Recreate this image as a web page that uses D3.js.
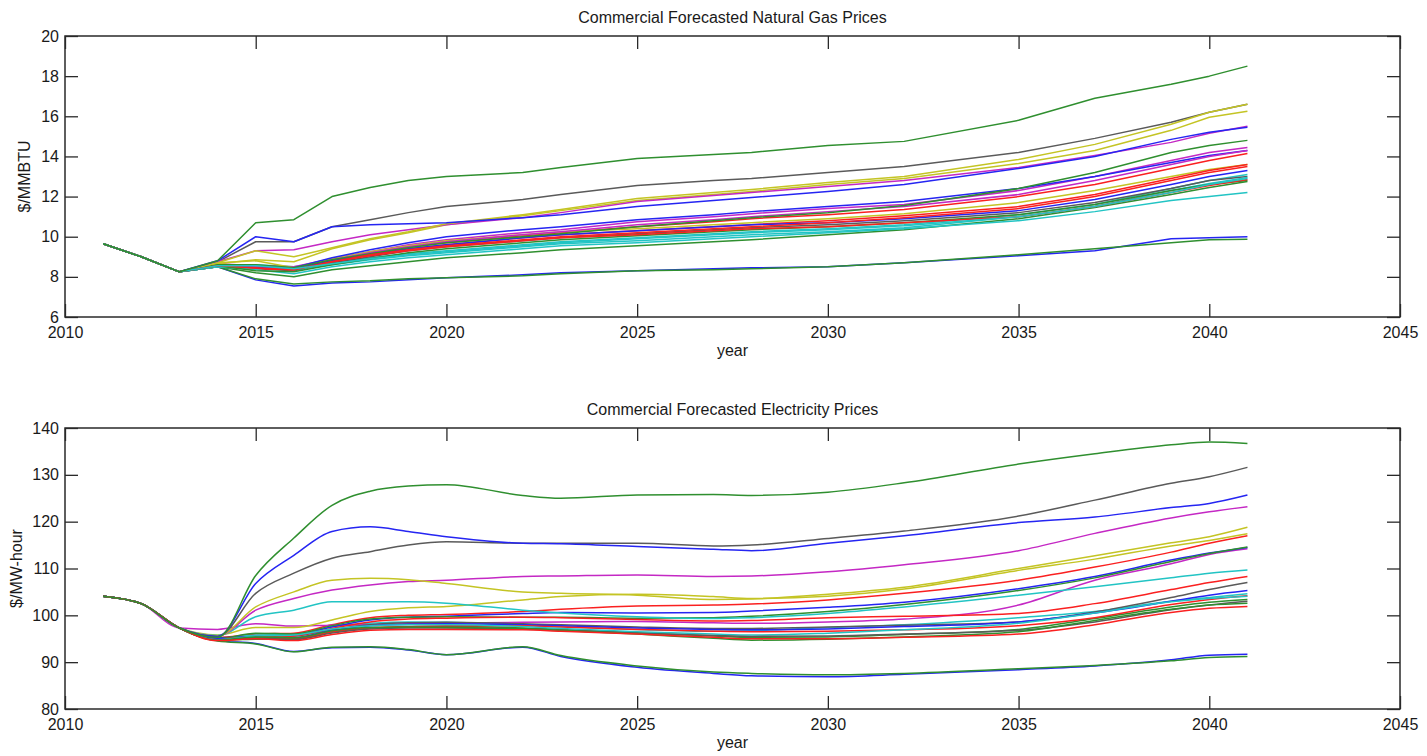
<!DOCTYPE html>
<html><head><meta charset="utf-8">
<script src="https://cdn.jsdelivr.net/npm/d3@7"></script>
<style>
body{margin:0;background:#fff;}
text{font-family:"Liberation Sans",Arial,Helvetica,sans-serif;fill:#1a1a1a;}
</style>
</head><body>
<svg id="chart" width="1427" height="756"></svg>
<script>
// ---------- data ----------
const years = [2011,2012,2013,2014,2015,2016,2017,2018,2019,2020,2022,2023,2025,2027,2028,2030,2032,2035,2037,2039,2040,2041];
const xTicks = [2010,2015,2020,2025,2030,2035,2040,2045];
const gasTicks = [6,8,10,12,14,16,18,20];
const elecTicks = [80,90,100,110,120,130,140];

const gasTitle = "Commercial Forecasted Natural Gas Prices";
const elecTitle = "Commercial Forecasted Electricity Prices";
const xLabel = "year";
const gasYLabel = "$/MMBTU";
const elecYLabel = "$/MW-hour";

// natural gas series ($/MMBTU)
const gasGreenTop   = [9.65,9.0,8.25,8.8, 10.7,10.85,12.0,12.45,12.8,13.0, 13.2,13.45,13.9,14.1,14.2,14.55,14.75,15.8,16.9,17.6,18.0,18.5];
const gasGray       = [9.65,9.0,8.25,8.75, 9.75,9.75,10.5,10.85,11.2,11.5, 11.85,12.1,12.55,12.8,12.9,13.2,13.5,14.2,14.9,15.7,16.2,16.6];
const gasYellowA    = [9.65,9.0,8.25,8.7, 9.3,9.0,9.45,9.9,10.25,10.65, 11.1,11.35,11.9,12.2,12.35,12.7,13.0,13.85,14.6,15.6,16.2,16.6];
const gasYellowB    = [9.65,9.0,8.25,8.65, 8.85,8.75,9.4,9.85,10.2,10.6, 11.05,11.3,11.8,12.1,12.25,12.6,12.9,13.65,14.3,15.3,15.95,16.25];
const gasMagentaTop = [9.65,9.0,8.25,8.75, 9.3,9.35,9.75,10.1,10.35,10.6, 10.95,11.2,11.75,12.05,12.2,12.5,12.8,13.45,14.05,14.7,15.15,15.5];
const gasBlueTop    = [9.65,9.0,8.25,8.8, 10.0,9.75,10.5,10.6,10.65,10.7, 10.95,11.1,11.5,11.8,11.95,12.25,12.6,13.4,14.0,14.85,15.2,15.45];
const gasGreenM1    = [9.65,9.0,8.25,8.6, 8.6,8.45,8.85,9.15,9.45,9.7, 10.0,10.15,10.5,10.8,10.95,11.2,11.55,12.4,13.2,14.2,14.55,14.8];
const gasMagentaM2  = [9.65,9.0,8.25,8.65, 8.55,8.5,8.9,9.25,9.6,9.85, 10.2,10.35,10.75,11.0,11.15,11.4,11.6,12.3,13.0,13.8,14.2,14.45];
const gasBlueM3     = [9.65,9.0,8.25,8.6, 8.5,8.45,8.95,9.35,9.7,10.0, 10.35,10.5,10.85,11.1,11.25,11.5,11.75,12.4,13.0,13.7,14.05,14.3];
const gasRedM4      = [9.65,9.0,8.25,8.65, 8.45,8.4,8.85,9.2,9.5,9.7, 10.05,10.2,10.5,10.75,10.9,11.1,11.35,12.0,12.6,13.4,13.8,14.15];
const gasYellowM5   = [9.65,9.0,8.25,8.7, 8.8,8.45,8.9,9.25,9.55,9.8, 10.1,10.25,10.4,10.6,10.7,10.9,11.15,11.7,12.3,13.0,13.35,13.6];
const gasRedM6      = [9.65,9.0,8.25,8.6, 8.45,8.35,8.8,9.15,9.4,9.6, 9.95,10.1,10.3,10.5,10.6,10.8,11.05,11.5,12.1,12.9,13.3,13.6];
const gasRedM7      = [9.65,9.0,8.25,8.55, 8.4,8.35,8.75,9.1,9.35,9.55, 9.85,10.0,10.2,10.4,10.5,10.7,10.95,11.4,12.0,12.8,13.2,13.5];
const gasBlueM8     = [9.65,9.0,8.25,8.55, 8.45,8.4,8.8,9.1,9.4,9.6, 9.95,10.1,10.3,10.5,10.6,10.7,10.9,11.3,11.85,12.6,13.0,13.3];
const gasGrayM9     = [9.65,9.0,8.25,8.5, 8.4,8.3,8.7,9.0,9.3,9.5, 9.8,9.95,10.15,10.35,10.45,10.6,10.8,11.2,11.7,12.4,12.8,13.0];
const gasCyanM10    = [9.65,9.0,8.25,8.55, 8.6,8.5,8.7,8.95,9.15,9.3, 9.6,9.75,9.95,10.15,10.25,10.4,10.6,11.1,11.6,12.4,12.8,13.1];
const gasCyanM11    = [9.65,9.0,8.25,8.5, 8.5,8.35,8.6,8.85,9.05,9.2, 9.5,9.65,9.8,10.0,10.1,10.25,10.45,11.0,11.5,12.3,12.65,12.95];
const gasRedM12     = [9.65,9.0,8.25,8.55, 8.45,8.35,8.75,9.05,9.3,9.5, 9.8,9.95,10.1,10.3,10.4,10.5,10.7,11.0,11.5,12.2,12.55,12.85];
const gasGreenM13   = [9.65,9.0,8.25,8.5, 8.2,8.0,8.35,8.55,8.75,8.95, 9.2,9.35,9.55,9.75,9.85,10.1,10.35,10.9,11.45,12.1,12.45,12.75];
const gasCyanM14    = [9.65,9.0,8.25,8.5, 8.35,8.15,8.5,8.75,8.95,9.1, 9.4,9.55,9.7,9.9,10.0,10.2,10.4,10.8,11.25,11.8,12.0,12.2];
const gasGreenM15   = [9.65,9.0,8.25,8.55, 8.3,8.25,8.6,8.9,9.2,9.4, 9.7,9.85,10.05,10.25,10.35,10.5,10.7,11.1,11.6,12.3,12.6,12.8];
const gasMagentaM16 = [9.65,9.0,8.25,8.6, 8.5,8.4,8.85,9.2,9.5,9.75, 10.1,10.25,10.6,10.85,11.0,11.25,11.5,12.1,12.8,13.6,14.0,14.3];
const gasCyanM17    = [9.65,9.0,8.25,8.55, 8.55,8.4,8.65,8.9,9.1,9.25, 9.55,9.7,9.9,10.1,10.2,10.35,10.55,11.0,11.5,12.2,12.6,12.9];
const gasBlueLow    = [9.65,9.0,8.25,8.5, 7.85,7.55,7.7,7.75,7.85,7.95, 8.1,8.2,8.3,8.4,8.45,8.5,8.7,9.05,9.3,9.9,9.95,10.0];
const gasGreenLow   = [9.65,9.0,8.25,8.5, 7.9,7.65,7.75,7.8,7.9,7.95, 8.05,8.15,8.3,8.35,8.4,8.5,8.7,9.1,9.4,9.7,9.85,9.87];

// electricity series ($/MW-hour)
const elGreenTop    = [104.1,102.5,97.3,95.3, 108.5,116.5,123.5,126.5,127.6,127.9, 125.6,125.0,125.7,125.8,125.6,126.3,128.3,132.3,134.5,136.4,137.0,136.7];
const elBlueTop     = [104.1,102.5,97.3,95.5, 106.8,112.8,117.9,118.9,117.9,116.8, 115.4,115.3,114.7,114.1,113.8,115.4,117.0,119.8,121.0,123.0,123.9,125.7];
const elGray        = [104.1,102.5,97.3,95.5, 104.7,109.0,112.2,113.6,115.0,115.7, 115.4,115.4,115.4,114.8,115.0,116.4,118.0,121.2,124.6,128.2,129.6,131.6];
const elYellowTop   = [104.1,102.5,97.3,95.6, 101.8,105.0,107.5,107.9,107.6,106.8, 105.0,104.7,104.3,103.4,103.5,104.5,106.0,110.0,112.7,115.5,116.8,118.8];
const elMagentaTop  = [104.1,102.5,97.3,95.6, 101.1,103.6,105.4,106.5,107.2,107.5, 108.3,108.4,108.6,108.3,108.4,109.3,110.8,113.8,117.5,120.8,122.1,123.2];
const elCyanTop     = [104.1,102.5,97.3,95.7, 99.7,101.1,102.9,102.9,102.9,102.6, 101.1,100.5,99.7,99.3,99.5,100.4,101.8,104.3,106.1,108.0,109.0,109.7];
const elYellowLow   = [104.1,102.5,97.3,95.8, 97.4,97.4,99.0,100.8,101.6,101.9, 103.3,104.0,104.5,104.0,103.6,104.1,105.6,109.6,112.0,114.8,116.0,117.4];
const elRedA        = [104.1,102.5,97.3,95.3, 96.0,96.2,98.0,99.5,100.0,100.2, 100.8,101.3,102.0,102.2,102.4,103.3,104.7,107.5,110.3,113.5,115.4,117.0];
const elMagentaLow  = [104.1,102.5,97.3,97.0, 98.2,97.7,97.9,98.0,98.2,98.3, 98.5,98.6,98.7,98.4,98.3,98.6,99.2,102.2,107.5,111.0,113.0,114.2];
const elBlueA       = [104.1,102.5,97.3,95.2, 95.5,95.7,97.5,99.0,99.6,99.8, 100.4,100.6,100.5,100.6,100.9,101.7,102.8,105.7,108.3,111.8,113.3,114.5];
const elGreenA      = [104.1,102.5,97.3,95.0, 96.2,96.0,97.8,99.2,99.6,99.7, 99.6,99.6,99.4,99.5,99.8,100.8,102.3,105.3,108.0,111.5,113.2,114.6];
const elCyanA       = [104.1,102.5,97.3,95.0, 95.8,95.9,97.6,98.3,98.6,98.5, 98.0,97.6,97.0,96.6,96.7,97.4,98.0,99.5,100.8,103.0,103.8,104.6];
const elRedB        = [104.1,102.5,97.3,95.0, 95.4,95.6,97.2,98.6,99.2,99.4, 99.6,99.5,99.1,98.8,98.9,99.5,99.8,100.4,102.5,105.5,107.0,108.3];
const elGrayB       = [104.1,102.5,97.3,94.9, 95.5,95.6,97.0,98.0,98.4,98.5, 98.2,98.0,97.5,97.2,97.2,97.5,97.9,98.6,100.7,103.8,105.5,107.0];
const elBlueB       = [104.1,102.5,97.3,95.0, 95.0,95.2,96.8,97.8,98.1,98.2, 98.0,97.8,97.3,97.0,96.9,97.1,97.6,98.6,100.5,103.0,104.3,105.3];
const elRedC        = [104.1,102.5,97.3,94.8, 95.2,94.9,96.5,97.3,97.6,97.8, 97.8,97.5,97.0,96.6,96.5,96.6,96.9,97.8,99.5,102.3,103.4,104.2];
const elGreenB      = [104.1,102.5,97.3,94.8, 94.9,95.0,96.4,97.3,97.5,97.6, 97.3,97.0,96.3,95.6,95.3,95.4,95.9,97.0,99.3,101.8,102.8,103.4];
const elGreenC      = [104.1,102.5,97.3,94.7, 95.4,95.2,96.7,97.4,97.5,97.4, 97.2,96.8,96.0,95.1,94.7,94.9,95.4,96.5,98.9,101.3,102.2,102.6];
const elRedD        = [104.1,102.5,97.3,94.6, 95.0,94.6,95.9,96.8,97.0,97.0, 96.9,96.6,96.0,95.3,95.0,95.0,95.3,96.0,98.0,100.6,101.5,101.9];
const elGrayC       = [104.1,102.5,97.3,94.7, 95.1,94.8,96.2,97.1,97.3,97.3, 97.1,96.8,96.2,95.7,95.5,95.6,96.0,96.8,98.6,101.2,102.2,103.0];
const elCyanB       = [104.1,102.5,97.3,94.8, 95.6,95.8,97.1,97.8,98.0,98.0, 97.6,97.2,96.5,96.0,95.8,96.2,96.9,98.3,100.5,102.9,103.6,104.1];
const elBlueLow     = [104.1,102.5,97.3,94.6, 94.0,92.3,93.1,93.2,92.6,91.6, 93.2,91.2,88.9,87.6,87.1,86.9,87.4,88.4,89.2,90.5,91.5,91.7];
const elGreenLow    = [104.1,102.5,97.3,94.5, 93.9,92.2,93.2,93.3,92.7,91.6, 93.3,91.4,89.2,87.9,87.6,87.3,87.6,88.6,89.3,90.3,91.0,91.2];

// MATLAB-like colour keys
const palette = {b:"#2525f2", g:"#2f8f2f", r:"#fa2020", c:"#22c4c4", m:"#c428c4", y:"#c4c424", k:"#5a5a5a"};

const gasLines = [
  [gasBlueLow,"b"],[gasGreenLow,"g"],[gasRedM4,"r"],[gasCyanM10,"c"],[gasMagentaM2,"m"],[gasYellowM5,"y"],[gasGrayM9,"k"],
  [gasBlueM3,"b"],[gasGreenM13,"g"],[gasRedM6,"r"],[gasCyanM11,"c"],[gasMagentaM16,"m"],[gasYellowB,"y"],[gasGray,"k"],
  [gasBlueM8,"b"],[gasGreenM1,"g"],[gasRedM7,"r"],[gasCyanM14,"c"],[gasMagentaTop,"m"],[gasYellowA,"y"],
  [gasBlueTop,"b"],[gasGreenM15,"g"],[gasRedM12,"r"],[gasCyanM17,"c"],[gasGreenTop,"g"]
];
const elecLines = [
  [elBlueLow,"b"],[elGreenLow,"g"],[elRedA,"r"],[elCyanA,"c"],[elMagentaLow,"m"],[elYellowLow,"y"],[elGrayB,"k"],
  [elBlueA,"b"],[elGreenA,"g"],[elRedB,"r"],[elCyanTop,"c"],[elMagentaTop,"m"],[elYellowTop,"y"],[elGray,"k"],
  [elBlueB,"b"],[elGreenB,"g"],[elRedC,"r"],[elCyanB,"c"],[elGrayC,"k"],
  [elBlueTop,"b"],[elGreenC,"g"],[elRedD,"r"],[elGreenTop,"g"]
];

// ---------- drawing ----------
const svg = d3.select("#chart");
const left = 65, right = 1400;
const x = d3.scaleLinear().domain([2010,2045]).range([left,right]);

function panel(top, bottom, yDomain, yTicks, lines, title, ylab, curve){
  const y = d3.scaleLinear().domain(yDomain).range([bottom, top]);
  const g = svg.append("g");
  const tick = 13;
  const fs = "16px";

  const line = d3.line().x((d,i)=>x(years[i])).y(d=>y(d)).curve(curve);
  g.append("g").selectAll("path").data(lines).join("path")
    .attr("d", d=>line(d[0]))
    .attr("fill","none")
    .attr("stroke", d=>palette[d[1]])
    .attr("stroke-width",1.5)
    .attr("stroke-linejoin","round");

  const styleAxis = sel => {
    sel.select(".domain").remove();
    sel.selectAll(".tick line").attr("stroke","#2a2a2a").attr("stroke-width",1.3);
    sel.selectAll("text").style("font-size",fs).attr("fill","#1a1a1a");
  };
  g.append("g").attr("transform",`translate(0,${bottom})`)
    .call(d3.axisBottom(x).tickValues(xTicks).tickFormat(d3.format("d")).tickSizeInner(-tick).tickSizeOuter(0).tickPadding(9.5))
    .call(styleAxis);
  g.append("g").attr("transform",`translate(0,${top})`)
    .call(d3.axisTop(x).tickValues(xTicks).tickFormat("").tickSizeInner(-tick).tickSizeOuter(0))
    .call(styleAxis);
  g.append("g").attr("transform",`translate(${left},0)`)
    .call(d3.axisLeft(y).tickValues(yTicks).tickFormat(d3.format("d")).tickSizeInner(-tick).tickSizeOuter(0).tickPadding(6))
    .call(styleAxis);
  g.append("g").attr("transform",`translate(${right},0)`)
    .call(d3.axisRight(y).tickValues(yTicks).tickFormat("").tickSizeInner(-tick).tickSizeOuter(0))
    .call(styleAxis);

  g.append("rect").attr("x",left).attr("y",top).attr("width",right-left).attr("height",bottom-top)
    .attr("fill","none").attr("stroke","#2a2a2a").attr("stroke-width",1.5);

  g.append("text").attr("x",(left+right)/2).attr("y",top-13).attr("text-anchor","middle")
    .style("font-size",fs).text(title);
  g.append("text").attr("x",(left+right)/2).attr("y",bottom+39).attr("text-anchor","middle")
    .style("font-size",fs).text(xLabel);
  g.append("text").attr("transform",`translate(${ylab.x},${(top+bottom)/2}) rotate(-90)`)
    .attr("text-anchor","middle").style("font-size",fs).text(ylab.t);
}

panel(36, 317, [6,20], gasTicks, gasLines, gasTitle, {t:gasYLabel, x:30}, d3.curveLinear);
panel(428, 709, [80,140], elecTicks, elecLines, elecTitle, {t:elecYLabel, x:22}, d3.curveMonotoneX);
</script>
</body></html>
